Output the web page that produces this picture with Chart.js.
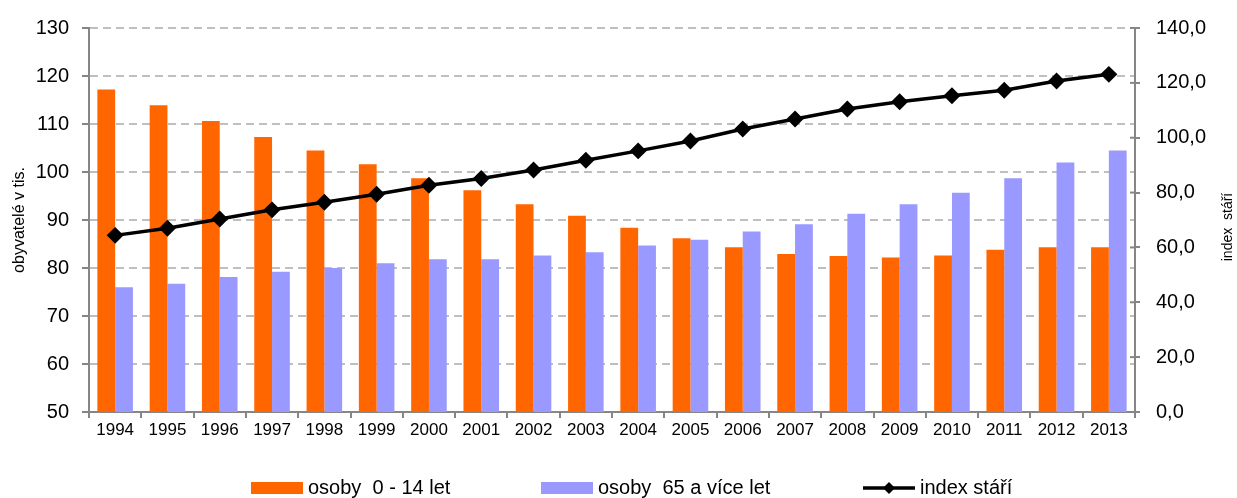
<!DOCTYPE html>
<html>
<head>
<meta charset="utf-8">
<script src="https://cdn.jsdelivr.net/npm/chart.js@4.4.1/dist/chart.umd.min.js"></script>
<style>
  body { margin: 0; background: #fff; }
  #wrap { width: 1237px; height: 498px; position: relative; }
</style>
</head>
<body>
<div id="wrap"><canvas id="indexStari"></canvas></div>
<script>
// Data
const roky = ['1994', '1995', '1996', '1997', '1998', '1999', '2000', '2001', '2002', '2003',
              '2004', '2005', '2006', '2007', '2008', '2009', '2010', '2011', '2012', '2013'];
const deti = [117.2, 113.9, 110.6, 107.3, 104.5, 101.6, 98.7, 96.2, 93.3, 90.9,
              88.4, 86.2, 84.3, 82.9, 82.5, 82.2, 82.6, 83.8, 84.3, 84.3];
const seniori = [76.0, 76.7, 78.1, 79.2, 80.0, 81.0, 81.8, 81.8, 82.6, 83.3,
                 84.7, 85.9, 87.6, 89.1, 91.3, 93.3, 95.7, 98.7, 102.0, 104.5];
const indexStari = [64.4, 67.0, 70.4, 73.7, 76.5, 79.4, 82.7, 85.1, 88.2, 91.8,
                    95.2, 98.8, 103.2, 106.8, 110.5, 113.1, 115.3, 117.3, 120.7, 123.1];
const nazvySerii = ['osoby  0 - 14 let', 'osoby  65 a více let', 'index stáří'];
const titulekLevy = 'obyvatelé v tis.';
const titulekPravy = 'index  stáří';

const FONT = '"Liberation Sans", Arial, sans-serif';
const SEDA = '#868686';

// Vlastni legenda, titulek prave osy a vnitrni carky prave osy
const doplnky = {
  id: 'doplnky',
  afterDraw(chart) {
    const ctx = chart.ctx;
    const y1 = chart.scales.y1;
    ctx.save();

    ctx.strokeStyle = SEDA;
    ctx.lineWidth = 2;
    y1.ticks.forEach((t, i) => {
      const py = y1.getPixelForTick(i);
      ctx.beginPath();
      ctx.moveTo(y1.left - 5, py);
      ctx.lineTo(y1.left, py);
      ctx.stroke();
    });

    ctx.fillStyle = '#000';
    ctx.font = '14px ' + FONT;
    ctx.textAlign = 'center';
    ctx.textBaseline = 'middle';
    ctx.save();
    ctx.translate(1228, 227);
    ctx.rotate(-Math.PI / 2);
    ctx.fillText(titulekPravy, 0, 0);
    ctx.restore();

    // legenda
    const ly = 488;
    const polohy = [251, 541, 863];
    ctx.font = '20px ' + FONT;
    ctx.textAlign = 'left';
    chart.data.datasets.forEach((ds, i) => {
      const x = polohy[i];
      if (ds.type === 'line') {
        ctx.strokeStyle = '#000';
        ctx.lineWidth = 3.5;
        ctx.beginPath();
        ctx.moveTo(x, ly);
        ctx.lineTo(x + 52, ly);
        ctx.stroke();
        ctx.fillStyle = '#000';
        ctx.beginPath();
        ctx.moveTo(x + 26, ly - 6);
        ctx.lineTo(x + 32, ly);
        ctx.lineTo(x + 26, ly + 6);
        ctx.lineTo(x + 20, ly);
        ctx.closePath();
        ctx.fill();
      } else {
        ctx.fillStyle = ds.backgroundColor;
        ctx.fillRect(x, ly - 6, 52, 12);
      }
      ctx.fillStyle = '#000';
      ctx.fillText(ds.label, x + 57, ly);
    });
    ctx.restore();
  }
};

const ctx = document.getElementById('indexStari').getContext('2d');
const graf = new Chart(ctx, {
  type: 'bar',
  data: {
    labels: roky,
    datasets: [
      {
        label: nazvySerii[0],
        data: deti,
        backgroundColor: '#ff6600',
        borderWidth: 0,
        yAxisID: 'y',
        order: 2,
        categoryPercentage: 0.68,
        barPercentage: 1.0,
      },
      {
        label: nazvySerii[1],
        data: seniori,
        backgroundColor: '#9999ff',
        borderWidth: 0,
        yAxisID: 'y',
        order: 2,
        categoryPercentage: 0.68,
        barPercentage: 1.0,
      },
      {
        type: 'line',
        label: nazvySerii[2],
        data: indexStari,
        borderColor: '#000',
        backgroundColor: '#000',
        borderWidth: 3.5,
        pointStyle: 'rectRot',
        pointRadius: 6,
        pointBackgroundColor: '#000',
        pointBorderColor: '#000',
        yAxisID: 'y1',
        order: 0,
        tension: 0,
      },
    ],
  },
  options: {
    responsive: true,
    maintainAspectRatio: false,
    animation: false,
    layout: { padding: { top: 25, left: 0, right: 0, bottom: 0 } },
    plugins: {
      legend: { display: false },
      tooltip: { enabled: false },
    },
    scales: {
      x: {
        offset: true,
        grid: {
          offset: true,
          drawOnChartArea: false,
          color: SEDA,
          lineWidth: 2,
          tickLength: 6,
        },
        border: { color: SEDA, width: 2 },
        ticks: { color: '#000', font: { family: FONT, size: 17 }, padding: 2, maxRotation: 0 },
        afterFit(scale) { scale.height = 86; },
      },
      y: {
        position: 'left',
        min: 50,
        max: 130,
        ticks: { stepSize: 10, color: '#000', font: { family: FONT, size: 20 }, padding: 13 },
        grid: {
          color: '#bfbfbf',
          lineWidth: 2,
          tickLength: 7,
          tickColor: SEDA,
          tickWidth: 2,
          tickBorderDash: [],
        },
        border: { color: SEDA, width: 2, dash: [8, 5] },
        title: {
          display: true,
          text: titulekLevy,
          color: '#000',
          font: { family: FONT, size: 16 },
          padding: { top: 10, bottom: 0 },
        },
        afterFit(scale) { scale.width = 89; },
      },
      y1: {
        position: 'right',
        min: 0,
        max: 140,
        ticks: {
          stepSize: 20,
          color: '#000',
          font: { family: FONT, size: 20 },
          padding: 16,
          callback: (v) => v.toFixed(1).replace('.', ','),
        },
        grid: {
          drawOnChartArea: false,
          color: SEDA,
          lineWidth: 2,
          tickLength: 5,
        },
        border: { color: SEDA, width: 2 },
        afterFit(scale) { scale.width = 102; },
      },
    },
  },
  plugins: [doplnky],
});
</script>
</body>
</html>
